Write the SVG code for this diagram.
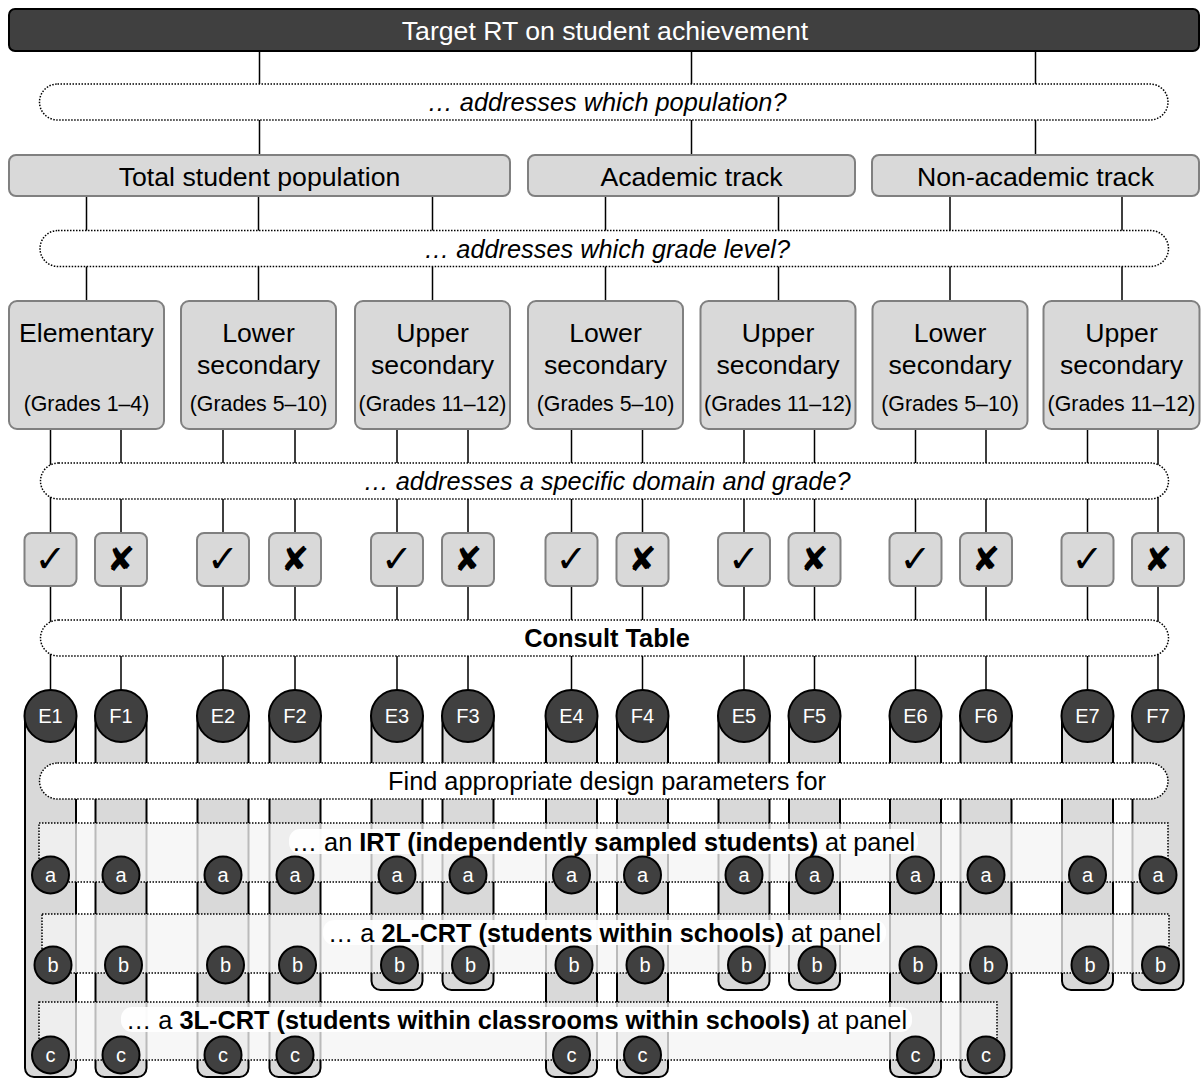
<svg xmlns="http://www.w3.org/2000/svg" width="1202" height="1079" viewBox="0 0 1202 1079">
<style>
text{font-family:"Liberation Sans",Arial,sans-serif;text-anchor:middle;fill:#000}
.ln{stroke:#000;stroke-width:1.5;fill:none}
.pill{fill:#fff;stroke:#000;stroke-width:1.5;stroke-dasharray:1.5 1.5}
.panel{fill:#f5f5f5;fill-opacity:.76;stroke:#000;stroke-width:1.5;stroke-dasharray:1.5 1.5}
.box{fill:#d9d9d9;stroke:#808080;stroke-width:2}
.col{fill:#d9d9d9;stroke:#000;stroke-width:2}
.dk{fill:#404040;stroke:#000;stroke-width:2}
.big{font-size:26.67px}
.sm{font-size:21.33px}
.mid{font-size:25.33px}
.it{font-style:italic}
.b{font-weight:bold}
.wt{fill:#fff;font-size:20px}
.chk{font-family:"DejaVu Sans",sans-serif;font-size:38px}
.crs{font-family:"DejaVu Sans",sans-serif;font-size:34px}
.lbg{fill:#fff;fill-opacity:.92}
</style>

<g id="connectors">
<path class="ln" d="M259.5 51V155M691.5 51V155M1035.5 51V155"/>
<path class="ln" d="M86.5 196V301M258.5 196V301M432.5 196V301M605.5 196V301M778.5 196V301M950 196V301M1122 196V301"/>
<path class="ln" d="M50.5 429V533M121 429V533M223 429V533M295 429V533M397 429V533M468 429V533M571.5 429V533M642.5 429V533M744 429V533M814.5 429V533M915.5 429V533M986 429V533M1087.5 429V533M1158 429V533"/>
<path class="ln" d="M50.5 586V690M121 586V690M223 586V690M295 586V690M397 586V690M468 586V690M571.5 586V690M642.5 586V690M744 586V690M814.5 586V690M915.5 586V690M986 586V690M1087.5 586V690M1158 586V690"/>
</g>

<g id="columns">
<path class="col" d="M25 716V1068A9 9 0 0 0 34 1077H67A9 9 0 0 0 76 1068V716Z"/>
<path class="col" d="M95.5 716V1068A9 9 0 0 0 104.5 1077H137.5A9 9 0 0 0 146.5 1068V716Z"/>
<path class="col" d="M197.5 716V1068A9 9 0 0 0 206.5 1077H239.5A9 9 0 0 0 248.5 1068V716Z"/>
<path class="col" d="M269.5 716V1068A9 9 0 0 0 278.5 1077H311.5A9 9 0 0 0 320.5 1068V716Z"/>
<path class="col" d="M371.5 716V981A9 9 0 0 0 380.5 990H413.5A9 9 0 0 0 422.5 981V716Z"/>
<path class="col" d="M442.5 716V981A9 9 0 0 0 451.5 990H484.5A9 9 0 0 0 493.5 981V716Z"/>
<path class="col" d="M546 716V1068A9 9 0 0 0 555 1077H588A9 9 0 0 0 597 1068V716Z"/>
<path class="col" d="M617 716V1068A9 9 0 0 0 626 1077H659A9 9 0 0 0 668 1068V716Z"/>
<path class="col" d="M718.5 716V981A9 9 0 0 0 727.5 990H760.5A9 9 0 0 0 769.5 981V716Z"/>
<path class="col" d="M789 716V981A9 9 0 0 0 798 990H831A9 9 0 0 0 840 981V716Z"/>
<path class="col" d="M890 716V1068A9 9 0 0 0 899 1077H932A9 9 0 0 0 941 1068V716Z"/>
<path class="col" d="M960.5 716V1068A9 9 0 0 0 969.5 1077H1002.5A9 9 0 0 0 1011.5 1068V716Z"/>
<path class="col" d="M1062 716V981A9 9 0 0 0 1071 990H1104A9 9 0 0 0 1113 981V716Z"/>
<path class="col" d="M1132.5 716V981A9 9 0 0 0 1141.5 990H1174.5A9 9 0 0 0 1183.5 981V716Z"/>
</g>

<g id="q-population"><rect class="pill" x="39.5" y="84" width="1128.5" height="36" rx="18"/><text class="mid it" x="607" y="111">… addresses which population?</text></g>
<g id="q-grade"><rect class="pill" x="40" y="230.5" width="1128.5" height="36" rx="18"/><text class="mid it" x="607" y="257.5">… addresses which grade level?</text></g>
<g id="q-domain"><rect class="pill" x="40.5" y="463" width="1128" height="36" rx="18"/><text class="mid it" x="607" y="490">… addresses a specific domain and grade?</text></g>
<g id="consult"><rect class="pill" x="40.5" y="620" width="1128" height="36" rx="18"/><text class="mid b" x="607" y="647">Consult Table</text></g>
<g id="find"><rect class="pill" x="39.5" y="763" width="1128.5" height="36" rx="18"/><text class="mid" x="607" y="790">Find appropriate design parameters for</text></g>

<g id="panel-a">
<rect class="panel" x="39" y="823" width="1129" height="59"/>
<rect class="lbg" x="289" y="829" width="629" height="25" rx="11"/>
<text class="mid" x="603.5" y="851">… an <tspan class="b">IRT (independently sampled students)</tspan> at panel</text>
</g>
<g id="panel-b">
<rect class="panel" x="42" y="914" width="1127" height="59"/>
<rect class="lbg" x="323" y="920" width="563" height="25" rx="11"/>
<text class="mid" x="604.5" y="942">… a <tspan class="b">2L-CRT (students within schools)</tspan> at panel</text>
</g>
<g id="panel-c">
<rect class="panel" x="39" y="1002" width="958" height="58"/>
<rect class="lbg" x="121" y="1007" width="791" height="25" rx="11"/>
<text class="mid" x="516.5" y="1029">… a <tspan class="b">3L-CRT (students within classrooms within schools)</tspan> at panel</text>
</g>

<g id="root"><rect class="dk" x="9" y="9" width="1190" height="42" rx="6"/><text class="big" x="605" y="40" style="fill:#fff">Target RT on student achievement</text></g>

<g id="pop-total"><rect class="box" x="9" y="155" width="501" height="41" rx="7"/><text class="big" x="259.5" y="185.5">Total student population</text></g>
<g id="pop-academic"><rect class="box" x="528" y="155" width="327" height="41" rx="7"/><text class="big" x="691.5" y="185.5">Academic track</text></g>
<g id="pop-nonacademic"><rect class="box" x="872" y="155" width="327" height="41" rx="7"/><text class="big" x="1035.5" y="185.5">Non-academic track</text></g>

<g id="grade-1"><rect class="box" x="9" y="301" width="155" height="128" rx="8"/><text class="big" x="86.5" y="341.5">Elementary</text><text class="sm" x="86.5" y="410.5">(Grades 1–4)</text></g>
<g id="grade-2"><rect class="box" x="181" y="301" width="155" height="128" rx="8"/><text class="big" x="258.5" y="341.5">Lower</text><text class="big" x="258.5" y="373.5">secondary</text><text class="sm" x="258.5" y="410.5">(Grades 5–10)</text></g>
<g id="grade-3"><rect class="box" x="355" y="301" width="155" height="128" rx="8"/><text class="big" x="432.5" y="341.5">Upper</text><text class="big" x="432.5" y="373.5">secondary</text><text class="sm" x="432.5" y="410.5">(Grades 11–12)</text></g>
<g id="grade-4"><rect class="box" x="528" y="301" width="155" height="128" rx="8"/><text class="big" x="605.5" y="341.5">Lower</text><text class="big" x="605.5" y="373.5">secondary</text><text class="sm" x="605.5" y="410.5">(Grades 5–10)</text></g>
<g id="grade-5"><rect class="box" x="700.5" y="301" width="155" height="128" rx="8"/><text class="big" x="778" y="341.5">Upper</text><text class="big" x="778" y="373.5">secondary</text><text class="sm" x="778" y="410.5">(Grades 11–12)</text></g>
<g id="grade-6"><rect class="box" x="872.5" y="301" width="155" height="128" rx="8"/><text class="big" x="950" y="341.5">Lower</text><text class="big" x="950" y="373.5">secondary</text><text class="sm" x="950" y="410.5">(Grades 5–10)</text></g>
<g id="grade-7"><rect class="box" x="1043.5" y="301" width="156" height="128" rx="8"/><text class="big" x="1121.5" y="341.5">Upper</text><text class="big" x="1121.5" y="373.5">secondary</text><text class="sm" x="1121.5" y="410.5">(Grades 11–12)</text></g>

<g id="checks">
<g id="yes-1"><rect class="box" x="24.5" y="533" width="52" height="53" rx="7"/><text class="chk" x="50.5" y="572">✓</text></g>
<g id="no-1"><rect class="box" x="95" y="533" width="52" height="53" rx="7"/><text class="crs" x="121" y="571">✘</text></g>
<g id="yes-2"><rect class="box" x="197" y="533" width="52" height="53" rx="7"/><text class="chk" x="223" y="572">✓</text></g>
<g id="no-2"><rect class="box" x="269" y="533" width="52" height="53" rx="7"/><text class="crs" x="295" y="571">✘</text></g>
<g id="yes-3"><rect class="box" x="371" y="533" width="52" height="53" rx="7"/><text class="chk" x="397" y="572">✓</text></g>
<g id="no-3"><rect class="box" x="442" y="533" width="52" height="53" rx="7"/><text class="crs" x="468" y="571">✘</text></g>
<g id="yes-4"><rect class="box" x="545.5" y="533" width="52" height="53" rx="7"/><text class="chk" x="571.5" y="572">✓</text></g>
<g id="no-4"><rect class="box" x="616.5" y="533" width="52" height="53" rx="7"/><text class="crs" x="642.5" y="571">✘</text></g>
<g id="yes-5"><rect class="box" x="718" y="533" width="52" height="53" rx="7"/><text class="chk" x="744" y="572">✓</text></g>
<g id="no-5"><rect class="box" x="788.5" y="533" width="52" height="53" rx="7"/><text class="crs" x="814.5" y="571">✘</text></g>
<g id="yes-6"><rect class="box" x="889.5" y="533" width="52" height="53" rx="7"/><text class="chk" x="915.5" y="572">✓</text></g>
<g id="no-6"><rect class="box" x="960" y="533" width="52" height="53" rx="7"/><text class="crs" x="986" y="571">✘</text></g>
<g id="yes-7"><rect class="box" x="1061.5" y="533" width="52" height="53" rx="7"/><text class="chk" x="1087.5" y="572">✓</text></g>
<g id="no-7"><rect class="box" x="1132" y="533" width="52" height="53" rx="7"/><text class="crs" x="1158" y="571">✘</text></g>
</g>

<g id="ef-nodes">
<g id="E1"><circle class="dk" cx="50.5" cy="716" r="26"/><text class="wt" x="50.5" y="723">E1</text></g>
<g id="F1"><circle class="dk" cx="121" cy="716" r="26"/><text class="wt" x="121" y="723">F1</text></g>
<g id="E2"><circle class="dk" cx="223" cy="716" r="26"/><text class="wt" x="223" y="723">E2</text></g>
<g id="F2"><circle class="dk" cx="295" cy="716" r="26"/><text class="wt" x="295" y="723">F2</text></g>
<g id="E3"><circle class="dk" cx="397" cy="716" r="26"/><text class="wt" x="397" y="723">E3</text></g>
<g id="F3"><circle class="dk" cx="468" cy="716" r="26"/><text class="wt" x="468" y="723">F3</text></g>
<g id="E4"><circle class="dk" cx="571.5" cy="716" r="26"/><text class="wt" x="571.5" y="723">E4</text></g>
<g id="F4"><circle class="dk" cx="642.5" cy="716" r="26"/><text class="wt" x="642.5" y="723">F4</text></g>
<g id="E5"><circle class="dk" cx="744" cy="716" r="26"/><text class="wt" x="744" y="723">E5</text></g>
<g id="F5"><circle class="dk" cx="814.5" cy="716" r="26"/><text class="wt" x="814.5" y="723">F5</text></g>
<g id="E6"><circle class="dk" cx="915.5" cy="716" r="26"/><text class="wt" x="915.5" y="723">E6</text></g>
<g id="F6"><circle class="dk" cx="986" cy="716" r="26"/><text class="wt" x="986" y="723">F6</text></g>
<g id="E7"><circle class="dk" cx="1087.5" cy="716" r="26"/><text class="wt" x="1087.5" y="723">E7</text></g>
<g id="F7"><circle class="dk" cx="1158" cy="716" r="26"/><text class="wt" x="1158" y="723">F7</text></g>
</g>

<g id="a-nodes">
<g><circle class="dk" cx="50.5" cy="875" r="18.5"/><text class="wt" x="50.5" y="882">a</text></g>
<g><circle class="dk" cx="121" cy="875" r="18.5"/><text class="wt" x="121" y="882">a</text></g>
<g><circle class="dk" cx="223" cy="875" r="18.5"/><text class="wt" x="223" y="882">a</text></g>
<g><circle class="dk" cx="295" cy="875" r="18.5"/><text class="wt" x="295" y="882">a</text></g>
<g><circle class="dk" cx="397" cy="875" r="18.5"/><text class="wt" x="397" y="882">a</text></g>
<g><circle class="dk" cx="468" cy="875" r="18.5"/><text class="wt" x="468" y="882">a</text></g>
<g><circle class="dk" cx="571.5" cy="875" r="18.5"/><text class="wt" x="571.5" y="882">a</text></g>
<g><circle class="dk" cx="642.5" cy="875" r="18.5"/><text class="wt" x="642.5" y="882">a</text></g>
<g><circle class="dk" cx="744" cy="875" r="18.5"/><text class="wt" x="744" y="882">a</text></g>
<g><circle class="dk" cx="814.5" cy="875" r="18.5"/><text class="wt" x="814.5" y="882">a</text></g>
<g><circle class="dk" cx="915.5" cy="875" r="18.5"/><text class="wt" x="915.5" y="882">a</text></g>
<g><circle class="dk" cx="986" cy="875" r="18.5"/><text class="wt" x="986" y="882">a</text></g>
<g><circle class="dk" cx="1087.5" cy="875" r="18.5"/><text class="wt" x="1087.5" y="882">a</text></g>
<g><circle class="dk" cx="1158" cy="875" r="18.5"/><text class="wt" x="1158" y="882">a</text></g>
</g>

<g id="b-nodes">
<g><circle class="dk" cx="53" cy="965" r="18.5"/><text class="wt" x="53" y="972">b</text></g>
<g><circle class="dk" cx="123.5" cy="965" r="18.5"/><text class="wt" x="123.5" y="972">b</text></g>
<g><circle class="dk" cx="225.5" cy="965" r="18.5"/><text class="wt" x="225.5" y="972">b</text></g>
<g><circle class="dk" cx="297.5" cy="965" r="18.5"/><text class="wt" x="297.5" y="972">b</text></g>
<g><circle class="dk" cx="399.5" cy="965" r="18.5"/><text class="wt" x="399.5" y="972">b</text></g>
<g><circle class="dk" cx="470.5" cy="965" r="18.5"/><text class="wt" x="470.5" y="972">b</text></g>
<g><circle class="dk" cx="574" cy="965" r="18.5"/><text class="wt" x="574" y="972">b</text></g>
<g><circle class="dk" cx="645" cy="965" r="18.5"/><text class="wt" x="645" y="972">b</text></g>
<g><circle class="dk" cx="746.5" cy="965" r="18.5"/><text class="wt" x="746.5" y="972">b</text></g>
<g><circle class="dk" cx="817" cy="965" r="18.5"/><text class="wt" x="817" y="972">b</text></g>
<g><circle class="dk" cx="918" cy="965" r="18.5"/><text class="wt" x="918" y="972">b</text></g>
<g><circle class="dk" cx="988.5" cy="965" r="18.5"/><text class="wt" x="988.5" y="972">b</text></g>
<g><circle class="dk" cx="1090" cy="965" r="18.5"/><text class="wt" x="1090" y="972">b</text></g>
<g><circle class="dk" cx="1160.5" cy="965" r="18.5"/><text class="wt" x="1160.5" y="972">b</text></g>
</g>

<g id="c-nodes">
<g><circle class="dk" cx="50.5" cy="1055" r="18.5"/><text class="wt" x="50.5" y="1062">c</text></g>
<g><circle class="dk" cx="121" cy="1055" r="18.5"/><text class="wt" x="121" y="1062">c</text></g>
<g><circle class="dk" cx="223" cy="1055" r="18.5"/><text class="wt" x="223" y="1062">c</text></g>
<g><circle class="dk" cx="295" cy="1055" r="18.5"/><text class="wt" x="295" y="1062">c</text></g>
<g><circle class="dk" cx="571.5" cy="1055" r="18.5"/><text class="wt" x="571.5" y="1062">c</text></g>
<g><circle class="dk" cx="642.5" cy="1055" r="18.5"/><text class="wt" x="642.5" y="1062">c</text></g>
<g><circle class="dk" cx="915.5" cy="1055" r="18.5"/><text class="wt" x="915.5" y="1062">c</text></g>
<g><circle class="dk" cx="986" cy="1055" r="18.5"/><text class="wt" x="986" y="1062">c</text></g>
</g>
</svg>
